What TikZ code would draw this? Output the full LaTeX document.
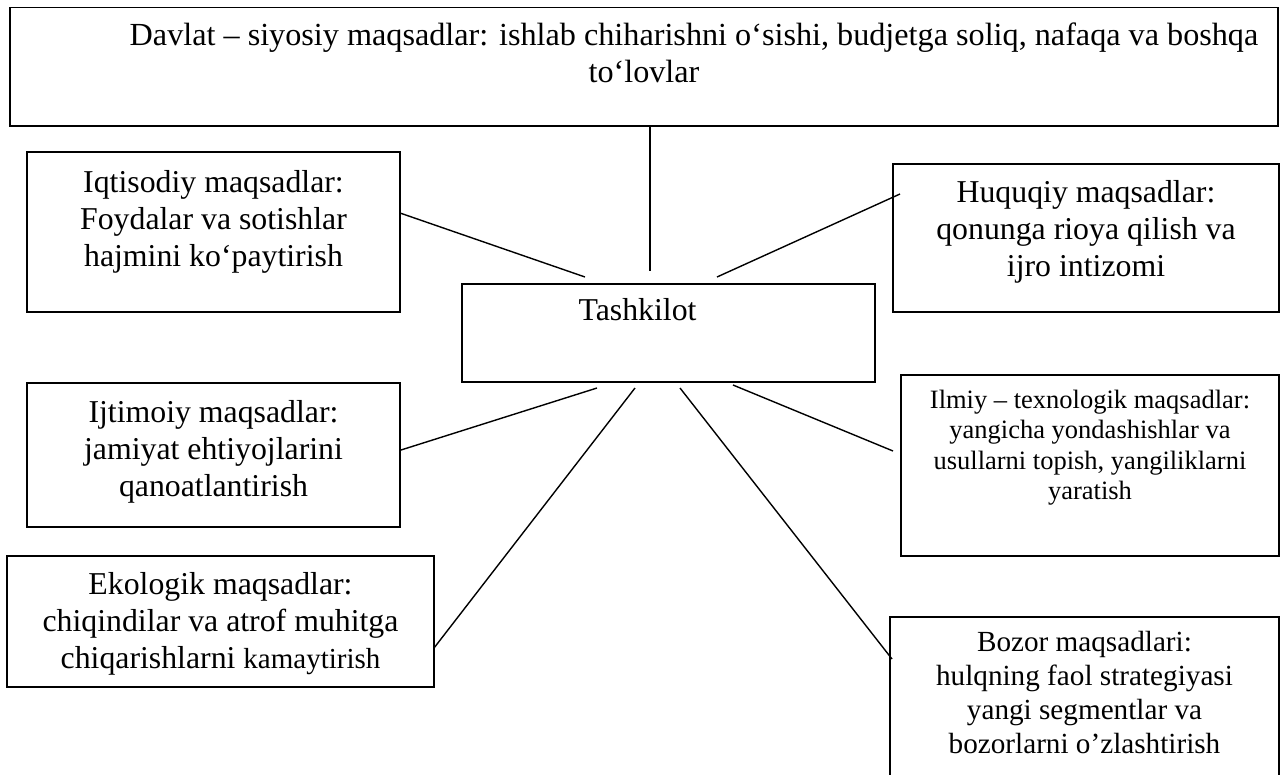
\documentclass[tikz,border=0pt]{standalone}
\usepackage{fontspec}
\setmainfont{Liberation Serif}
\begin{document}
\begin{tikzpicture}[x=1pt,y=-1pt,
  box/.style={draw, line width=1.4pt, inner sep=0pt, outer sep=0pt, anchor=north west},
  txt/.style={align=center, anchor=base, inner sep=0pt, font=\fontsize{31.8}{36.8}\selectfont},
  toptxt/.style={align=center, anchor=base, inner sep=0pt, font=\fontsize{32.2}{36.8}\selectfont},
  smalltxt/.style={align=center, anchor=base, inner sep=0pt, font=\fontsize{26.5}{30.5}\selectfont},
  boztxt/.style={align=center, anchor=base, inner sep=0pt, font=\fontsize{29.2}{34}\selectfont},
  link/.style={line width=1.4pt}]
\useasboundingbox (0,0) rectangle (1282,774);
\fill[white] (0,0) rectangle (1282,774);
\clip (0,0) rectangle (1282,774);

% boxes
\node[box, minimum width=1268pt, minimum height=118.5pt] (top) at (10,7.5) {};
\node[box, minimum width=373pt, minimum height=160pt] (iqt) at (27,152) {};
\node[box, minimum width=386pt, minimum height=148pt] (huq) at (893,164) {};
\node[box, minimum width=413pt, minimum height=98pt] (tash) at (462,284) {};
\node[box, minimum width=373pt, minimum height=144pt] (ijt) at (27,383) {};
\node[box, minimum width=378pt, minimum height=181pt] (ilm) at (901,375) {};
\node[box, minimum width=427pt, minimum height=131pt] (eko) at (7,556) {};
\node[box, minimum width=389pt, minimum height=190pt] (boz) at (890,617) {};

% texts (anchor base = baseline of the last line)
\node[toptxt] (toptext) at (644,82.3) {\hspace*{100pt}Davlat – siyosiy maqsadlar: ishlab chiharishni o‘sishi, budjetga soliq, nafaqa va boshqa\\ to‘lovlar};
\node[txt] (iqttext) at (213.5,266.1) {Iqtisodiy maqsadlar:\\ Foydalar va sotishlar\\ hajmini ko‘paytirish};
\node[txt] (huqtext) at (1086,276.1) {Huquqiy maqsadlar:\\ qonunga rioya qilish va\\ ijro intizomi};
\node[txt] (tashtext) at (637.5,320.5) {Tashkilot};
\node[txt] (ijttext) at (213.5,496.1) {Ijtimoiy maqsadlar:\\ jamiyat ehtiyojlarini\\ qanoatlantirish};
\node[smalltxt] (ilmtext) at (1090,499.5) {Ilmiy – texnologik maqsadlar:\\ yangicha yondashishlar va\\ usullarni topish, yangiliklarni\\ yaratish};
\node[txt] (ekotext) at (220.5,668.1) {Ekologik maqsadlar:\\ chiqindilar va atrof muhitga\\ chiqarishlarni {\fontsize{29}{36.8}\selectfont kamaytirish}};
\node[boztxt] (boztext) at (1084.5,753.7) {Bozor maqsadlari:\\ hulqning faol strategiyasi\\ yangi segmentlar va\\ bozorlarni o’zlashtirish};

% connector end points
\coordinate (topA) at (650,126);
\coordinate (tashT) at (650,271);
\coordinate (iqtA) at (400,213);
\coordinate (tashIqt) at (585,277);
\coordinate (huqA) at (900,194);
\coordinate (tashHuq) at (717,277);
\coordinate (tashIjt) at (597,388);
\coordinate (ijtA) at (401,450);
\coordinate (tashEko) at (635,388);
\coordinate (ekoA) at (434,648);
\coordinate (tashBoz) at (680,388);
\coordinate (bozA) at (892,659);
\coordinate (tashIlm) at (733,385);
\coordinate (ilmA) at (893,451);

% connectors
\draw[link] (topA) -- (tashT);
\draw[link] (iqtA) -- (tashIqt);
\draw[link] (huqA) -- (tashHuq);
\draw[link] (tashIjt) -- (ijtA);
\draw[link] (tashEko) -- (ekoA);
\draw[link] (tashBoz) -- (bozA);
\draw[link] (tashIlm) -- (ilmA);
\end{tikzpicture}
\end{document}
